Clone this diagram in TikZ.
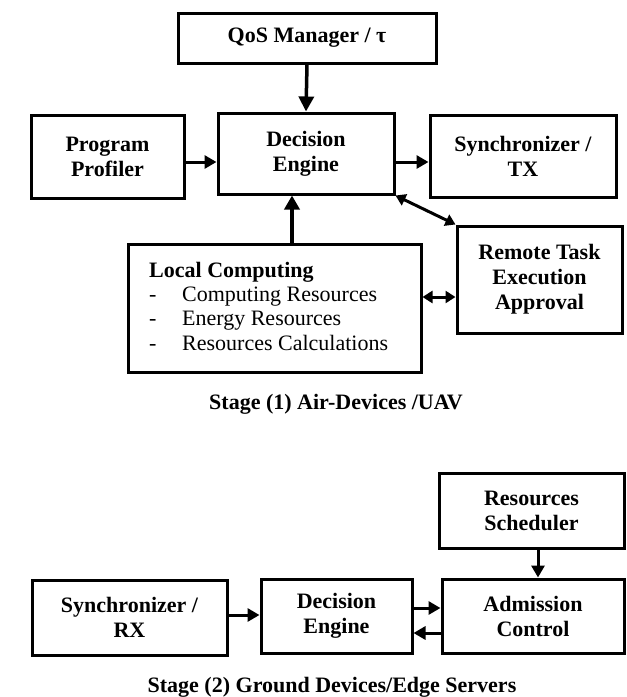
\documentclass[tikz,border=0pt]{standalone}
\usepackage{fontspec}
\setmainfont{Liberation Serif}
\usetikzlibrary{arrows.meta}
\begin{document}
\begin{tikzpicture}[x=1pt,y=-1pt,
  blk/.style={draw,line width=3pt,inner sep=0pt,align=center,
    font=\fontsize{22}{25}\selectfont\bfseries},
  arr/.style={line width=3pt,-{Triangle[length=12pt,width=13pt]}},
  darr/.style={line width=3pt,{Triangle[length=10pt,width=12pt]}-{Triangle[length=10pt,width=12pt]}},
  lbl/.style={font=\fontsize{22}{25}\selectfont\bfseries}]
\useasboundingbox (0,0) rectangle (627,697);
% Stage 1
\node[blk,minimum width=258pt,minimum height=50pt] (qos) at (307,38) {QoS Manager / τ};
\node[blk,minimum width=153pt,minimum height=83pt] (prof) at (107.5,156.5) {Program\\Profiler};
\node[blk,minimum width=176pt,minimum height=81pt] (de) at (306,153.5) {Decision\\Engine};
\node[blk,minimum width=186pt,minimum height=82pt] (tx) at (523,156) {Synchronizer /\\TX};
\node[blk,minimum width=293pt,minimum height=128pt] (local) at (274.5,308) {};
\node[blk,minimum width=165pt,minimum height=107pt] (remote) at (539.5,279.5) {Remote Task\\Execution\\Approval};
\node[anchor=base west,inner sep=0pt,font=\fontsize{22}{24.4}\selectfont] (localtxt) at (149,277)
  {\begin{tabular}[t]{@{}p{33pt}@{}l@{}}\multicolumn{2}{@{}l}{\textbf{Local Computing}}\\
  - & Computing Resources\\ - & Energy Resources\\ - & Resources Calculations\end{tabular}};
\node[lbl] (st1) at (336,404) {Stage (1) Air-Devices /UAV};
\coordinate (ya) at (0,162);
\coordinate (xa) at (292,0);
\coordinate (yb) at (0,297);
\draw[arr,line width=3.5pt,-{Triangle[length=15pt,width=15pt]}] (qos.south) -- (de.north);
\draw[arr] (prof.east |- ya) -- (de.west |- ya);
\draw[arr] (de.east |- ya) -- (tx.west |- ya);
\draw[arr,line width=3.5pt,-{Triangle[length=14pt,width=15pt]}] (local.north -| xa) -- (de.south -| xa);
\draw[darr] (de.south east) -- (remote.north west);
\draw[darr] (local.east |- yb) -- (remote.west |- yb);
% Stage 2
\node[blk,minimum width=185pt,minimum height=75pt] (rs) at (531.5,510.5) {Resources\\Scheduler};
\node[blk,minimum width=195pt,minimum height=75pt] (rx) at (129.5,617.5) {Synchronizer /\\RX};
\node[blk,minimum width=151pt,minimum height=74pt] (de2) at (336.5,616) {Decision\\Engine};
\node[blk,minimum width=182pt,minimum height=74pt] (ac) at (533,616) {Admission\\Control};
\node[lbl] (st2) at (332,687) {Stage (2) Ground Devices/Edge Servers};
\coordinate (xc) at (538,0);
\coordinate (yc) at (0,615);
\coordinate (yd) at (0,608);
\coordinate (ye) at (0,633);
\draw[arr] (rs.south -| xc) -- (ac.north -| xc);
\draw[arr] (rx.east |- yc) -- (de2.west |- yc);
\draw[arr] (de2.east |- yd) -- (ac.west |- yd);
\draw[arr] (ac.west |- ye) -- (de2.east |- ye);
\end{tikzpicture}
\end{document}
